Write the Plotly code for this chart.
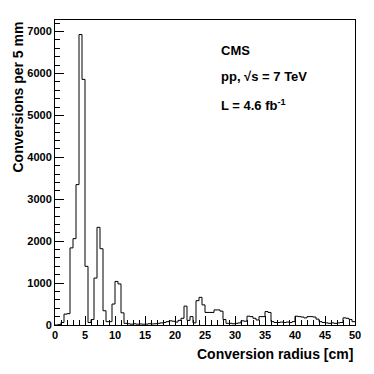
import plotly.graph_objects as go

# 100 bins of 5 mm from 0 to 50 cm
bin_edges = [i * 0.5 for i in range(101)]
conversions = [
    0, 10, 60, 260, 270, 1840, 2060, 3350, 6930, 5860,
    1400, 60, 130, 1120, 2330, 1820, 340, 80, 80, 500,
    1040, 980, 290, 40, 30, 20, 30, 20, 25, 20,
    20, 30, 25, 30, 40, 50, 60, 80, 100, 90,
    70, 110, 160, 450, 110, 200, 50, 580, 660, 480,
    300, 300, 300, 360, 360, 330, 130, 40, 40, 30,
    40, 50, 100, 90, 210, 200, 160, 120, 200, 200,
    320, 300, 80, 60, 60, 70, 60, 70, 60, 80,
    210, 200, 190, 170, 200, 200, 190, 140, 80, 60,
    50, 40, 50, 40, 50, 60, 170, 160, 130, 80,
]

FONT = "Liberation Sans"

fig = go.Figure()
fig.add_trace(go.Scatter(
    x=bin_edges,
    y=conversions + [conversions[-1]],
    mode="lines",
    line=dict(shape="hv", color="black", width=1),
    hoverinfo="skip",
    showlegend=False,
))

axis_common = dict(
    showline=True, linecolor="black", linewidth=1, mirror=True,
    showgrid=False, zeroline=False, automargin=False,
    ticks="inside", ticklen=9, tickcolor="black", tickwidth=1,
    tickfont=dict(family=FONT, size=11, color="black", weight="bold"),
)

fig.update_xaxes(
    range=[0, 50], tick0=0, dtick=5,
    minor=dict(dtick=1, ticklen=5, ticks="inside", tickcolor="black"),
    **axis_common,
)
fig.update_yaxes(
    range=[0, 7277], tick0=0, dtick=1000,
    minor=dict(dtick=200, ticklen=5, ticks="inside", tickcolor="black"),
    **axis_common,
)

# page body has an 8px default margin, so the figure is a bit smaller
fig.update_layout(
    width=366, height=366,
    margin=dict(l=47, r=19, t=12, b=49),
    paper_bgcolor="white", plot_bgcolor="white",
    font=dict(family=FONT, color="black"),
    annotations=[
        dict(text="Conversion radius [cm]", xref="paper", yref="paper",
             x=1, y=0, xanchor="right", yanchor="top", yshift=-19,
             showarrow=False, font=dict(size=14, weight="bold")),
        dict(text="Conversions per 5 mm", xref="paper", yref="paper",
             x=0, y=1, xanchor="center", yanchor="top", xshift=-38,
             textangle=-90, showarrow=False,
             font=dict(size=14, weight="bold")),
        dict(text="CMS", xref="paper", yref="paper",
             x=0.545, y=0.9, xanchor="left", yanchor="middle",
             showarrow=False, font=dict(size=13, weight="bold")),
        dict(text="pp, √s = 7 TeV", xref="paper", yref="paper",
             x=0.545, y=0.815, xanchor="left", yanchor="middle",
             showarrow=False, font=dict(size=13, weight="bold")),
        dict(text="L = 4.6 fb<sup>-1</sup>", xref="paper", yref="paper",
             x=0.545, y=0.72, xanchor="left", yanchor="middle",
             showarrow=False, font=dict(size=13, weight="bold")),
    ],
)

fig.write_html("out.html")
